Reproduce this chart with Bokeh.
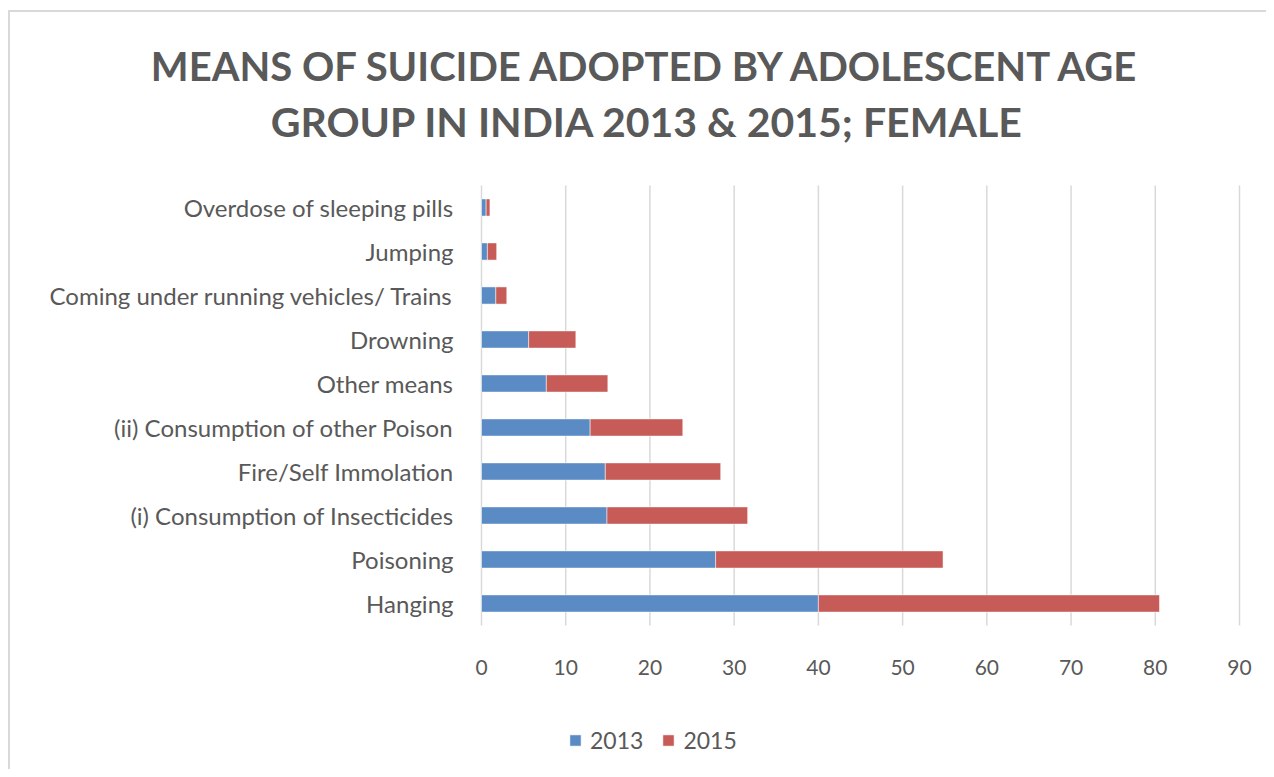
from bokeh.plotting import figure
from bokeh.models import Range1d, Legend, LegendItem, Title, FixedTicker, ColumnDataSource
from bokeh.core.properties import value
from bokeh.embed import file_html
from bokeh.resources import INLINE

categories = ["Hanging", "Poisoning", "(i) Consumption of Insecticides",
              "Fire/Self Immolation", "(ii) Consumption of other Poison",
              "Other means", "Drowning", "Coming under running vehicles/ Trains",
              "Jumping", "Overdose of sleeping pills"]
v2013 = [40.0, 27.8, 14.9, 14.7, 12.9, 7.7, 5.6, 1.7, 0.7, 0.55]
v2015 = [40.5, 27.0, 16.7, 13.7, 11.0, 7.3, 5.6, 1.3, 1.1, 0.45]
years = ["2013", "2015"]
colors = ["#5B8BC5", "#C75B57"]
x_ticks = [0, 10, 20, 30, 40, 50, 60, 70, 80, 90]
title_lines = ["MEANS OF SUICIDE ADOPTED BY ADOLESCENT AGE",
               "GROUP IN INDIA 2013 & 2015; FEMALE"]

FONT = "Lato"
GREY = "#595959"

ypos = list(range(len(categories)))
src = ColumnDataSource(dict(y=ypos, cat=categories, **{"2013": v2013, "2015": v2015}))

W, H = 1266, 769
LEFT, TOP = 28, 150
PX_X = 758 / 90.0      # pixels per unit on x
PX_Y = 44.0            # pixels per category
X0 = 481 - LEFT        # pixel offset of x=0 inside frame
Y0 = 603               # page y of first category centre
x_range = Range1d(-X0 / PX_X, (W - LEFT - X0) / PX_X)
y_range = Range1d(-(H - Y0) / PX_Y, (Y0 - TOP) / PX_Y)

p = figure(width=W, height=H, output_backend="svg", toolbar_location=None,
           x_range=x_range, y_range=y_range,
           min_border_left=LEFT, min_border_right=0, min_border_bottom=0,
           min_border_top=TOP)
p.title.visible = False
p.outline_line_color = None
p.background_fill_alpha = 0
p.border_fill_alpha = 0
p.styles = {
    "background-color": "white",
    "background-image": "linear-gradient(#d9d9d9, #d9d9d9), linear-gradient(#d9d9d9, #d9d9d9)",
    "background-size": "100% 2px, 2px 100%",
    "background-position": "8px 10px, 8px 10px",
    "background-repeat": "no-repeat",
}
p.xgrid.visible = False
p.ygrid.visible = False
p.yaxis.visible = False

# vertical gridlines at the tick values, spanning the category band
n = len(categories)
p.segment(x0=x_ticks, x1=x_ticks, y0=[-0.5] * len(x_ticks), y1=[n - 0.5] * len(x_ticks),
          line_color="#d9d9d9", line_width=1.5)

rs = p.hbar_stack(years, y="y", height=0.39, color=colors, source=src,
                  line_color="white", line_alpha=0.5, line_width=1)

# category labels
p.text(x=0, y="y", text="cat", source=src, x_offset=-28, text_align="right",
       text_baseline="middle", text_font=value(FONT), text_font_size="24px",
       text_color=GREY)

p.xaxis.fixed_location = -0.5
p.xaxis.ticker = FixedTicker(ticks=x_ticks)
p.xaxis.axis_line_color = None
p.xaxis.major_tick_line_color = None
p.xaxis.minor_tick_line_color = None
p.xaxis.major_label_text_font = FONT
p.xaxis.major_label_text_color = GREY
p.xaxis.major_label_text_font_size = "21px"
p.xaxis.major_label_standoff = 28

t2 = Title(text=title_lines[1], align="center", text_font=FONT, text_font_size="41px",
           text_font_style="bold", text_color=GREY, standoff=10)
t1 = Title(text=title_lines[0], align="center", text_font=FONT, text_font_size="40px",
           text_font_style="bold", text_color=GREY, standoff=0)
p.add_layout(t2, "above")
p.add_layout(t1, "above")

legend = Legend(items=[LegendItem(label=years[i], renderers=[rs[i]]) for i in range(2)],
                orientation="horizontal", location=(540, 15),
                label_text_font=FONT, label_text_color=GREY, label_text_font_size="23px",
                glyph_width=14, glyph_height=14, label_standoff=8, spacing=18,
                border_line_color=None, background_fill_alpha=0, padding=0, margin=0)
p.add_layout(legend, "center")

open("out.html", "w").write(file_html(p, INLINE))
